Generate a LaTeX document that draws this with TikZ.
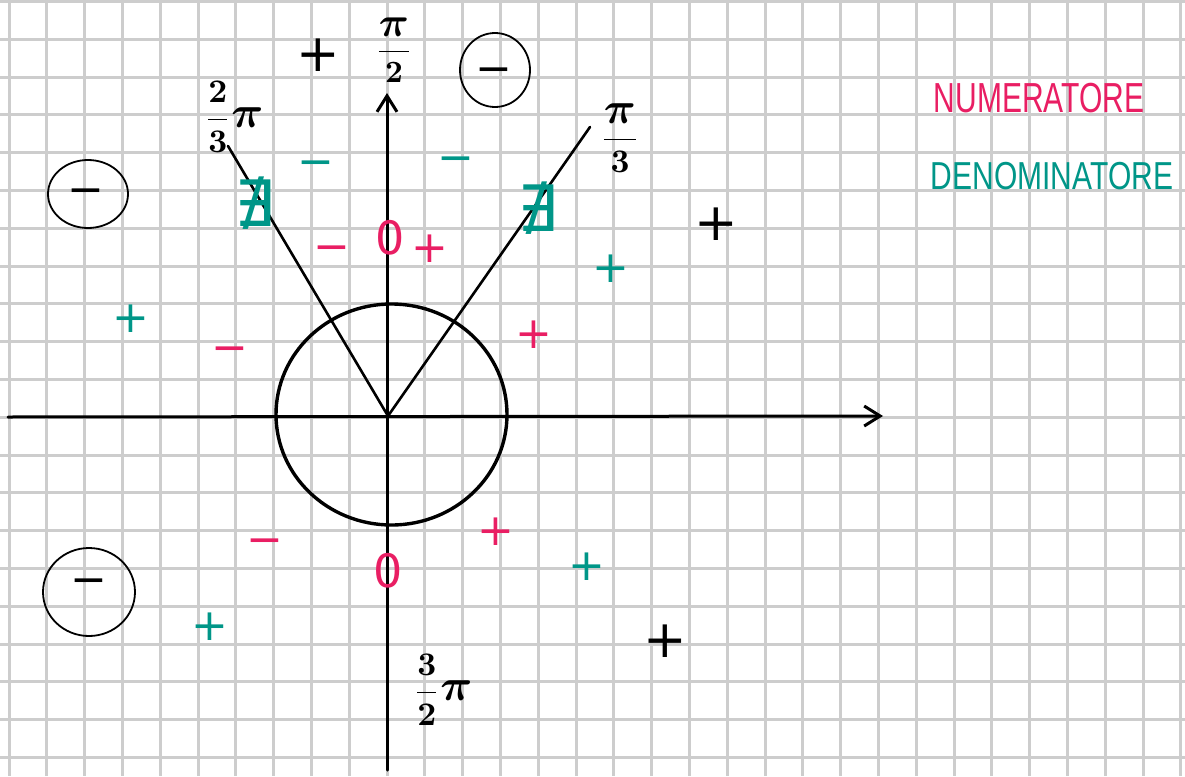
\documentclass[tikz,border=0pt]{standalone}
\usepackage{fontspec}
\setsansfont{Liberation Sans}
\newfontfamily\symfont{DejaVu Sans}
\usetikzlibrary{arrows.meta}
\definecolor{numcol}{RGB}{233,30,99}
\definecolor{dencol}{RGB}{0,150,136}
\definecolor{gridcol}{RGB}{205,205,205}
\newcommand{\bigpi}{\mbox{\boldmath\scalebox{1.35}{$\pi$}}}
\tikzset{
  pen/.style={line width=3pt, line cap=round, line join=round},
  thinpen/.style={line width=1.8pt},
  sgn/.style={inner sep=0pt, font=\symfont\fontsize{44}{44}\selectfont},
  bigsgn/.style={inner sep=0pt, font=\symfont\fontsize{52}{52}\selectfont},
  zero/.style={inner sep=0pt, text=numcol, font=\symfont\fontsize{46}{46}\selectfont},
  nex/.style={inner sep=0pt, text=dencol, font=\symfont\fontsize{64}{64}\selectfont},
  lab/.style={inner sep=0pt, font=\boldmath},
  legend/.style={inner sep=0pt, font=\sffamily\fontsize{30}{30}\selectfont},
  axisarrow/.style={pen, -{Straight Barb[length=16pt,width=20pt,line width=3pt]}},
}
\begin{document}
\begin{tikzpicture}[x=1pt,y=-1pt]
\useasboundingbox (0,0) rectangle (1185,776);
\fill[white] (0,0) rectangle (1185,776);
% grid
\foreach \k in {0,...,31} \draw[gridcol, line width=3pt] ({9+37.8*\k},0) -- ({9+37.8*\k},776);
\foreach \k in {0,...,20} \draw[gridcol, line width=3pt] (0,{1.5+37.8*\k}) -- (1185,{1.5+37.8*\k});

% axes
\coordinate (O) at (388,416);
\coordinate (XL) at (8,417);
\coordinate (XR) at (883,416);
\coordinate (YB) at (387,770);
\coordinate (YT) at (387,93);
\coordinate (A23) at (228,146);
\coordinate (A13) at (590,127);
\draw[axisarrow] (XL) -- (XR);
\draw[axisarrow] (YB) -- (YT);
\draw[pen, line width=2.6pt] (O) -- (A23);
\draw[pen, line width=2.6pt] (O) -- (A13);

% circle
\draw[pen, line width=3.4pt] (391.5,414.5) ellipse [x radius=115.5, y radius=110.5];

% circled minus signs
\draw[thinpen] (88,194) ellipse [x radius=40, y radius=34];
\draw[thinpen] (495,70) ellipse [x radius=35, y radius=37];
\draw[thinpen] (89,592) ellipse [x radius=46, y radius=44];
\node[sgn] (cm1) at (86,191) {\vphantom{+}−};
\node[sgn] (cm2) at (494,70) {\vphantom{+}−};
\node[sgn] (cm3) at (89,581) {\vphantom{+}−};

% black plus signs
\node[bigsgn] (bp1) at (318,55) {+};
\node[bigsgn] (bp2) at (716,224) {+};
\node[bigsgn] (bp3) at (665,641) {+};

% numerator (pink)
\node[zero] (z1) at (390,238) {0};
\node[zero] (z2) at (388,571) {0};
\node[sgn, text=numcol] (np1) at (430,249) {+};
\node[sgn, text=numcol] (np2) at (534,335) {+};
\node[sgn, text=numcol] (np3) at (496,532) {+};
\node[sgn, text=numcol] (nm1) at (332,248) {\vphantom{+}−};
\node[sgn, text=numcol] (nm2) at (230,349) {\vphantom{+}−};
\node[sgn, text=numcol] (nm3) at (265,541) {\vphantom{+}−};

% denominator (teal)
\node[sgn, text=dencol] (dm1) at (316,163) {\vphantom{+}−};
\node[sgn, text=dencol] (dm2) at (456,159) {\vphantom{+}−};
\node[sgn, text=dencol] (dp1) at (131,319) {+};
\node[sgn, text=dencol] (dp2) at (611,269) {+};
\node[sgn, text=dencol] (dp3) at (210,627) {+};
\node[sgn, text=dencol] (dp4) at (587,567) {+};
\node[nex] (ne1) at (255,203) {∄};
\node[nex] (ne2) at (538,208) {∄};

% angle labels
\node[lab] (l90) at (394,50) {\scalebox{3.1}{$\displaystyle\frac{\bigpi}{2}$}};
\node[lab] (l120) at (234,117) {\scalebox{3.3}{$\displaystyle\frac{2}{3}\bigpi$}};
\node[lab] (l60) at (620,138) {\scalebox{3.3}{$\displaystyle\frac{\bigpi}{3}$}};
\node[lab] (l270) at (443,690) {\scalebox{3.3}{$\displaystyle\frac{3}{2}\bigpi$}};

% legend
\node[legend, text=numcol] (leg1) at (1039,98) {\scalebox{1}[1.4]{NUMERATORE}};
\node[legend, text=dencol] (leg2) at (1052,176) {\scalebox{1}[1.3]{DENOMINATORE}};
\end{tikzpicture}
\end{document}
